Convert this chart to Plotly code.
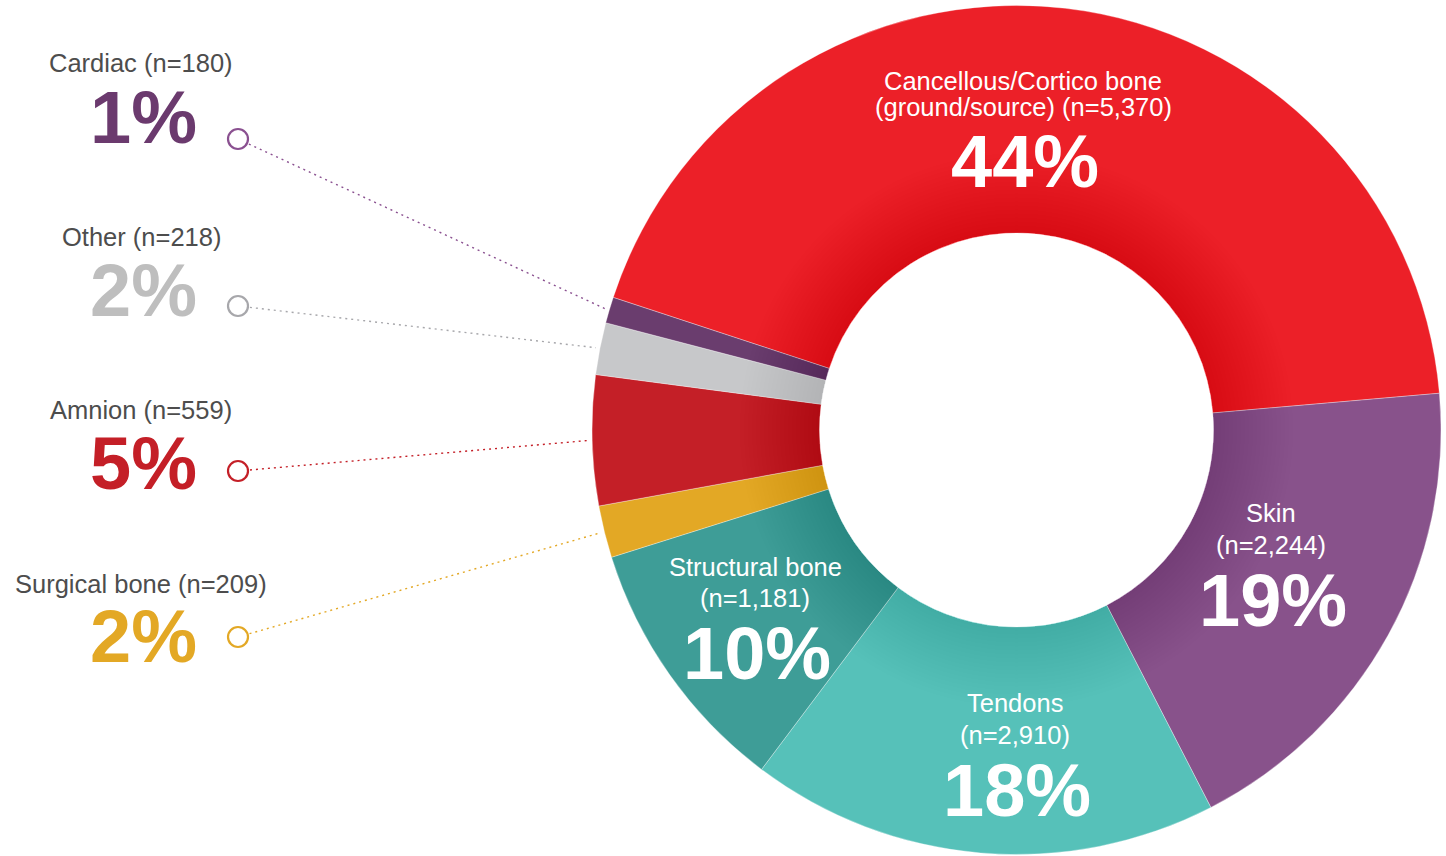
import math
import plotly.graph_objects as go

W, H = 1446, 856

# ---- data ----
categories = ["Cancellous/Cortico bone", "Skin", "Tendons", "Structural bone",
              "Surgical bone", "Amnion", "Other", "Cardiac"]
counts = [5370, 2244, 2910, 1181, 209, 559, 218, 180]
percents = [44, 19, 18, 10, 2, 5, 2, 1]

# ---- styling ----
slice_colors = ["#EC2028", "#88528B", "#56C1B9", "#3E9D97",
                "#E3A825", "#C41F27", "#C7C8CA", "#6A3D6E"]
pct_colors = {"Cardiac": "#6B3A6E", "Other": "#BEBEBE",
              "Amnion": "#C41F27", "Surgical bone": "#E3A825"}
marker_colors = {"Cardiac": "#8A5090", "Other": "#A7A7AB",
                 "Amnion": "#C41F27", "Surgical bone": "#E3A825"}
FONT = "Liberation Sans, Arial, sans-serif"
GREY_TEXT = "#4D4D4D"
SMALL, BIG = 25.5, 74

# donut geometry (pixels)
CX, CY = 1016.5, 430.0
R_OUT, R_IN = 424.5, 197.0
ROTATION = -71.8


def domain(r):
    return dict(x=[(CX - r) / W, (CX + r) / W],
                y=[(H - CY - r) / H, (H - CY + r) / H])


fig = go.Figure()

fig.add_trace(go.Pie(
    labels=categories, values=percents, sort=False,
    direction="clockwise", rotation=ROTATION,
    hole=R_IN / R_OUT, domain=domain(R_OUT),
    marker=dict(colors=slice_colors,
                line=dict(color="rgba(255,255,255,0.55)", width=0.6)),
    textinfo="none", hoverinfo="label+percent", showlegend=False,
))

# soft inner shadow fading out from the hole
for k in range(1, 21):
    r = R_IN + 4 * k
    fig.add_trace(go.Pie(
        values=[1], sort=False, hole=R_IN / r, domain=domain(r),
        marker=dict(colors=["rgba(30,0,10,0.005)"], line=dict(width=0)),
        textinfo="none", hoverinfo="skip", showlegend=False,
    ))

# ---- callouts for the small slices ----
total = sum(percents)
mid_angle = {}
acc = 0.0
for name, v in zip(categories, percents):
    a0 = ROTATION + 360.0 * acc / total
    a1 = ROTATION + 360.0 * (acc + v) / total
    mid_angle[name] = math.radians((a0 + a1) / 2)
    acc += v

callout_names = ["Cardiac", "Other", "Amnion", "Surgical bone"]
callout_y = [139, 306, 471, 637]
label_y = [63, 236.5, 410, 583.5]
pct_y = [117, 290.5, 463.5, 636.5]
MARK_X = 238
LABEL_X = 141
PCT_RIGHT = 199

annotations = []
for name, cy, ly, py in zip(callout_names, callout_y, label_y, pct_y):
    i = categories.index(name)
    th = mid_angle[name]
    ex = CX + (R_OUT + 4) * math.sin(th)
    ey = CY - (R_OUT + 4) * math.cos(th)
    col = marker_colors[name]
    fig.add_trace(go.Scatter(
        x=[MARK_X, ex], y=[cy, ey], mode="lines",
        line=dict(color=col, width=1.4, dash="2px,4px"),
        hoverinfo="skip", showlegend=False))
    fig.add_trace(go.Scatter(
        x=[MARK_X], y=[cy], mode="markers",
        marker=dict(size=20, color="white", line=dict(color=col, width=2.2)),
        hoverinfo="skip", showlegend=False))
    annotations.append(dict(
        x=LABEL_X, y=ly, xref="x", yref="y", showarrow=False,
        xanchor="center", yanchor="middle",
        text=f"{name} (n={counts[i]:,})",
        font=dict(family=FONT, size=SMALL, color=GREY_TEXT)))
    annotations.append(dict(
        x=PCT_RIGHT, y=py, xref="x", yref="y", showarrow=False,
        xanchor="right", yanchor="middle",
        text=f"<b>{percents[i]}%</b>",
        font=dict(family=FONT, size=BIG, color=pct_colors[name])))

# ---- labels inside the large slices ----
inside = [
    # name, text lines, x, line y positions, percent y
    ("Cancellous/Cortico bone",
     ["Cancellous/Cortico bone", "(ground/source) (n={n})"], 1023, [81, 107], 161),
    ("Skin", ["Skin", "(n={n})"], 1271, [513, 545], 600),
    ("Tendons", ["Tendons", "(n={n})"], 1015, [703, 735], 790),
    ("Structural bone", ["Structural bone", "(n={n})"], 755, [567, 598], 653.5),
]
for name, lines, x, ys, py in inside:
    i = categories.index(name)
    for txt, yy in zip(lines, ys):
        annotations.append(dict(
            x=x, y=yy, xref="x", yref="y", showarrow=False,
            xanchor="center", yanchor="middle",
            text=txt.format(n=f"{counts[i]:,}"),
            font=dict(family=FONT, size=SMALL, color="white")))
    annotations.append(dict(
        x=x + 2, y=py, xref="x", yref="y", showarrow=False,
        xanchor="center", yanchor="middle",
        text=f"<b>{percents[i]}%</b>",
        font=dict(family=FONT, size=BIG, color="white")))

fig.update_layout(
    width=W, height=H, autosize=False,
    margin=dict(l=0, r=0, t=0, b=0, pad=0),
    paper_bgcolor="white", plot_bgcolor="rgba(0,0,0,0)",
    xaxis=dict(range=[0, W], visible=False, fixedrange=True),
    yaxis=dict(range=[H, 0], visible=False, fixedrange=True),
    annotations=annotations,
    showlegend=False,
)

fig.write_html("out.html")
